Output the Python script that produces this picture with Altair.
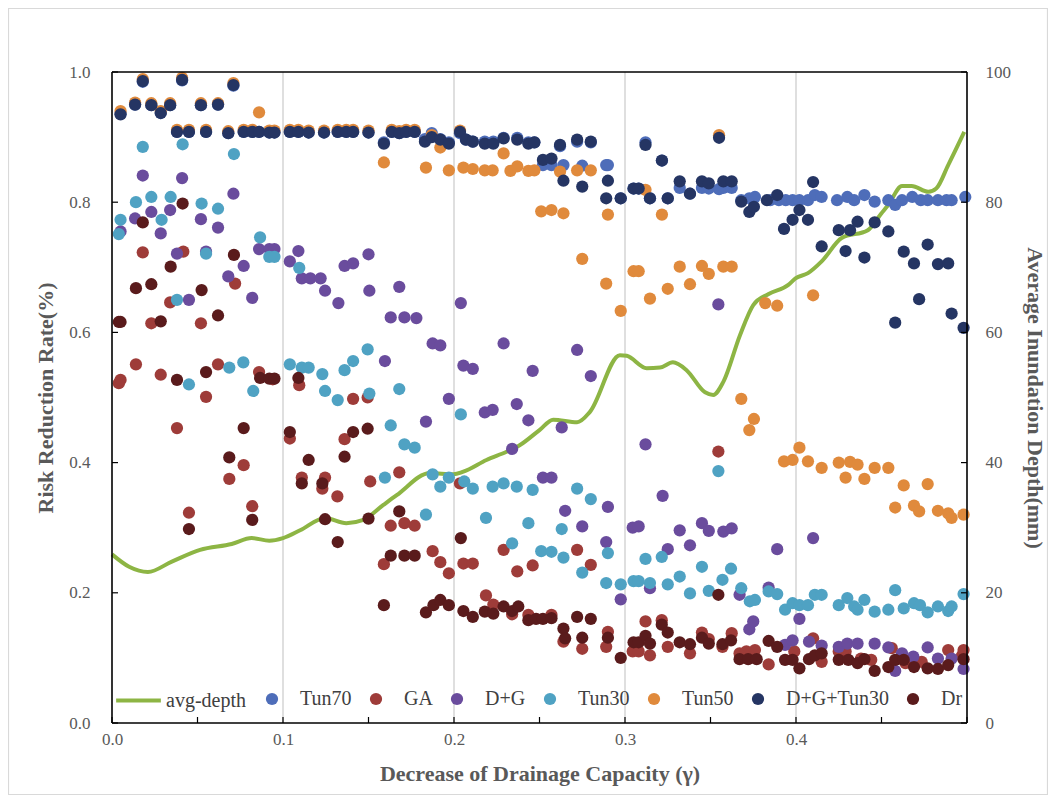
import altair as alt
import pandas as pd

# ---------------- data ----------------
tun70_x = [0.005, 0.0135, 0.018, 0.023, 0.0285, 0.034, 0.038, 0.041, 0.045, 0.052, 0.055, 0.062, 0.068, 0.071,
           0.077, 0.082, 0.086, 0.092, 0.095, 0.104, 0.109, 0.115, 0.124, 0.132, 0.137, 0.141, 0.150, 0.159,
           0.1636, 0.168, 0.172, 0.177, 0.183, 0.187, 0.192, 0.197, 0.2035, 0.207, 0.211, 0.218, 0.223, 0.229,
           0.237, 0.2435, 0.247, 0.252, 0.257, 0.262, 0.264, 0.272, 0.275, 0.280, 0.289, 0.290, 0.2975, 0.305,
           0.308, 0.312, 0.3146, 0.3216, 0.325, 0.332, 0.338, 0.345, 0.349, 0.355, 0.3575, 0.3624, 0.368,
           0.3727, 0.376, 0.385, 0.390, 0.394, 0.398, 0.402, 0.407, 0.411, 0.415, 0.424, 0.430, 0.434, 0.440,
           0.446, 0.454, 0.458, 0.462, 0.468, 0.473, 0.477, 0.483, 0.488, 0.491, 0.499]
tun70_y = [0.936, 0.950, 0.985, 0.949, 0.937, 0.949, 0.908, 0.987, 0.908, 0.949, 0.908, 0.950, 0.906, 0.979,
           0.908, 0.908, 0.908, 0.907, 0.907, 0.908, 0.908, 0.907, 0.907, 0.908, 0.908, 0.908, 0.907, 0.892,
           0.908, 0.906, 0.908, 0.908, 0.897, 0.906, 0.897, 0.892, 0.906, 0.896, 0.893, 0.893, 0.893, 0.899,
           0.899, 0.892, 0.892, 0.857, 0.857, 0.886, 0.857, 0.893, 0.856, 0.892, 0.857, 0.857, 0.806, 0.821,
           0.821, 0.892, 0.806, 0.864, 0.806, 0.822, 0.813, 0.822, 0.821, 0.820, 0.822, 0.822, 0.803,
           0.806, 0.808, 0.803, 0.803, 0.803, 0.803, 0.803, 0.803, 0.811, 0.808, 0.803, 0.808, 0.803, 0.811,
           0.801, 0.803, 0.796, 0.803, 0.808, 0.803, 0.803, 0.803, 0.803, 0.803, 0.808]

ga_x = [0.004, 0.005, 0.014, 0.018, 0.023, 0.0285, 0.034, 0.038, 0.0417, 0.045, 0.052, 0.055, 0.062, 0.0686,
        0.072, 0.077, 0.082, 0.086, 0.094, 0.104, 0.1095, 0.111, 0.123, 0.1246, 0.1318, 0.136, 0.141, 0.1495,
        0.151, 0.159, 0.163, 0.168, 0.171, 0.177, 0.1875, 0.192, 0.197, 0.2035, 0.2055, 0.211, 0.2187, 0.223,
        0.229, 0.234, 0.237, 0.2435, 0.246, 0.257, 0.264, 0.272, 0.275, 0.280, 0.289, 0.290, 0.3045, 0.308,
        0.312, 0.3146, 0.3215, 0.325, 0.338, 0.345, 0.349, 0.3546, 0.357, 0.3624, 0.367, 0.371, 0.376, 0.384,
        0.399, 0.410, 0.415, 0.425, 0.429, 0.438, 0.444, 0.456, 0.464, 0.4735, 0.489, 0.497, 0.498]
ga_y = [0.522, 0.527, 0.551, 0.723, 0.614, 0.535, 0.646, 0.453, 0.724, 0.323, 0.614, 0.501, 0.551, 0.375,
        0.675, 0.396, 0.333, 0.539, 0.528, 0.437, 0.519, 0.377, 0.360, 0.377, 0.348, 0.436, 0.498, 0.500,
        0.371, 0.244, 0.303, 0.385, 0.307, 0.303, 0.264, 0.247, 0.230, 0.368, 0.245, 0.245, 0.196, 0.182,
        0.266, 0.167, 0.233, 0.166, 0.242, 0.166, 0.125, 0.266, 0.114, 0.243, 0.117, 0.140, 0.110, 0.110,
        0.156, 0.104, 0.158, 0.117, 0.107, 0.139, 0.129, 0.417, 0.117, 0.138, 0.107, 0.110, 0.112, 0.090,
        0.110, 0.130, 0.094, 0.110, 0.110, 0.099, 0.097, 0.115, 0.092, 0.094, 0.112, 0.103, 0.112]

dg_x = [0.005, 0.0135, 0.018, 0.023, 0.0285, 0.034, 0.038, 0.041, 0.045, 0.052, 0.055, 0.062, 0.068, 0.071,
        0.077, 0.082, 0.086, 0.092, 0.095, 0.104, 0.109, 0.111, 0.116, 0.122, 0.1246, 0.1324, 0.136, 0.141,
        0.150, 0.1505, 0.1596, 0.163, 0.168, 0.171, 0.178, 0.1836, 0.1875, 0.192, 0.197, 0.204, 0.2055, 0.211,
        0.218, 0.2226, 0.229, 0.234, 0.2367, 0.2435, 0.246, 0.252, 0.257, 0.263, 0.265, 0.272, 0.275, 0.280,
        0.289, 0.290, 0.2975, 0.3045, 0.308, 0.312, 0.3146, 0.322, 0.325, 0.332, 0.338, 0.345, 0.349, 0.3546,
        0.3575, 0.3624, 0.367, 0.3727, 0.375, 0.384, 0.389, 0.3936, 0.398, 0.402, 0.4076, 0.410, 0.415, 0.425,
        0.430, 0.436, 0.446, 0.454, 0.458, 0.462, 0.4686, 0.477, 0.483, 0.491, 0.498]
dg_y = [0.755, 0.775, 0.841, 0.785, 0.752, 0.788, 0.721, 0.837, 0.650, 0.774, 0.724, 0.761, 0.686, 0.813,
        0.702, 0.653, 0.728, 0.728, 0.728, 0.709, 0.725, 0.683, 0.683, 0.683, 0.664, 0.645, 0.702, 0.706,
        0.720, 0.664, 0.556, 0.623, 0.670, 0.623, 0.622, 0.463, 0.583, 0.580, 0.498, 0.645, 0.549, 0.544,
        0.477, 0.481, 0.583, 0.421, 0.490, 0.465, 0.541, 0.377, 0.377, 0.454, 0.326, 0.573, 0.302, 0.533,
        0.278, 0.332, 0.190, 0.300, 0.302, 0.428, 0.207, 0.349, 0.267, 0.296, 0.273, 0.307, 0.295, 0.643,
        0.294, 0.299, 0.197, 0.144, 0.156, 0.208, 0.267, 0.120, 0.127, 0.160, 0.125, 0.284, 0.119, 0.117,
        0.122, 0.122, 0.122, 0.116, 0.080, 0.107, 0.102, 0.116, 0.099, 0.099, 0.083]

tun30_x = [0.004, 0.005, 0.014, 0.018, 0.023, 0.029, 0.0343, 0.038, 0.0413, 0.045, 0.0524, 0.055, 0.062,
           0.0686, 0.0713, 0.0768, 0.0826, 0.0866, 0.092, 0.095, 0.104, 0.1095, 0.111, 0.115, 0.123, 0.1246,
           0.132, 0.136, 0.141, 0.1495, 0.1505, 0.1596, 0.163, 0.168, 0.171, 0.177, 0.1836, 0.1875, 0.192,
           0.197, 0.204, 0.206, 0.211, 0.2187, 0.2226, 0.229, 0.234, 0.2367, 0.2435, 0.246, 0.251, 0.257,
           0.263, 0.264, 0.272, 0.275, 0.280, 0.289, 0.290, 0.2975, 0.305, 0.308, 0.312, 0.3146, 0.3215,
           0.325, 0.332, 0.338, 0.345, 0.349, 0.3546, 0.357, 0.362, 0.368, 0.373, 0.376, 0.384, 0.389,
           0.3936, 0.398, 0.402, 0.407, 0.411, 0.415, 0.425, 0.430, 0.434, 0.436, 0.440, 0.446, 0.454,
           0.458, 0.463, 0.469, 0.4725, 0.477, 0.483, 0.489, 0.491, 0.498]
tun30_y = [0.751, 0.773, 0.800, 0.885, 0.808, 0.773, 0.808, 0.650, 0.889, 0.520, 0.798, 0.721, 0.790,
           0.546, 0.874, 0.554, 0.510, 0.746, 0.716, 0.716, 0.551, 0.699, 0.546, 0.546, 0.536, 0.510,
           0.496, 0.542, 0.556, 0.574, 0.506, 0.377, 0.457, 0.513, 0.428, 0.423, 0.320, 0.382, 0.363,
           0.377, 0.474, 0.371, 0.360, 0.315, 0.363, 0.368, 0.276, 0.363, 0.307, 0.358, 0.264, 0.263,
           0.298, 0.254, 0.360, 0.231, 0.344, 0.215, 0.261, 0.213, 0.218, 0.218, 0.252, 0.215, 0.255,
           0.213, 0.225, 0.199, 0.240, 0.203, 0.387, 0.220, 0.237, 0.207, 0.187, 0.189, 0.202, 0.198,
           0.174, 0.184, 0.181, 0.181, 0.197, 0.197, 0.181, 0.192, 0.179, 0.174, 0.189, 0.171, 0.174,
           0.204, 0.176, 0.184, 0.181, 0.170, 0.179, 0.172, 0.179, 0.198]

tun50_x = [0.005, 0.0135, 0.018, 0.023, 0.0285, 0.034, 0.038, 0.041, 0.045, 0.052, 0.055, 0.062, 0.068, 0.071,
           0.077, 0.082, 0.086, 0.092, 0.095, 0.104, 0.109, 0.115, 0.124, 0.132, 0.137, 0.141, 0.150, 0.159,
           0.1636, 0.168, 0.172, 0.177, 0.1836, 0.187, 0.192, 0.197, 0.2035, 0.2055, 0.211, 0.218, 0.2226,
           0.229, 0.233, 0.237, 0.2435, 0.247, 0.251, 0.257, 0.262, 0.264, 0.272, 0.275, 0.280, 0.289, 0.290,
           0.2975, 0.305, 0.308, 0.312, 0.3146, 0.3216, 0.325, 0.332, 0.338, 0.345, 0.349, 0.355, 0.3575,
           0.3624, 0.368, 0.3727, 0.3754, 0.382, 0.389, 0.393, 0.398, 0.402, 0.407, 0.410, 0.415, 0.425,
           0.429, 0.4316, 0.436, 0.440, 0.446, 0.454, 0.458, 0.463, 0.469, 0.472, 0.477, 0.483, 0.489,
           0.491, 0.498]
tun50_y = [0.940, 0.953, 0.989, 0.952, 0.940, 0.952, 0.911, 0.991, 0.911, 0.952, 0.911, 0.952, 0.909, 0.983,
           0.911, 0.911, 0.938, 0.910, 0.910, 0.911, 0.911, 0.910, 0.910, 0.911, 0.911, 0.911, 0.910, 0.861,
           0.911, 0.909, 0.911, 0.911, 0.853, 0.903, 0.884, 0.849, 0.910, 0.853, 0.851, 0.849, 0.849,
           0.875, 0.848, 0.855, 0.848, 0.849, 0.786, 0.788, 0.847, 0.783, 0.849, 0.713, 0.849, 0.675, 0.781,
           0.633, 0.694, 0.694, 0.819, 0.652, 0.781, 0.667, 0.701, 0.674, 0.702, 0.690, 0.903, 0.701,
           0.701, 0.498, 0.450, 0.467, 0.645, 0.641, 0.402, 0.404, 0.423, 0.402, 0.657, 0.392, 0.400,
           0.377, 0.401, 0.397, 0.375, 0.392, 0.392, 0.331, 0.365, 0.334, 0.325, 0.367, 0.326, 0.322,
           0.315, 0.320]

dgt_x = [0.005, 0.0135, 0.018, 0.023, 0.0285, 0.034, 0.038, 0.041, 0.045, 0.052, 0.055, 0.062, 0.068, 0.071,
         0.077, 0.082, 0.086, 0.092, 0.095, 0.104, 0.109, 0.115, 0.124, 0.132, 0.137, 0.141, 0.150, 0.159,
         0.1636, 0.168, 0.172, 0.177, 0.183, 0.187, 0.192, 0.197, 0.2035, 0.207, 0.211, 0.218, 0.223, 0.229,
         0.237, 0.2435, 0.247, 0.252, 0.257, 0.262, 0.264, 0.272, 0.275, 0.280, 0.289, 0.290, 0.2975, 0.305,
         0.308, 0.312, 0.3146, 0.3216, 0.325, 0.332, 0.338, 0.345, 0.349, 0.355, 0.3575, 0.3624, 0.368,
         0.3727, 0.3754, 0.383, 0.389, 0.393, 0.398, 0.402, 0.407, 0.410, 0.415, 0.425, 0.429, 0.4316, 0.436,
         0.440, 0.446, 0.454, 0.458, 0.463, 0.469, 0.472, 0.477, 0.483, 0.489, 0.491, 0.498]
dgt_y = [0.935, 0.950, 0.986, 0.949, 0.937, 0.949, 0.908, 0.988, 0.908, 0.949, 0.908, 0.950, 0.906, 0.980,
         0.908, 0.908, 0.908, 0.907, 0.907, 0.908, 0.908, 0.907, 0.907, 0.908, 0.908, 0.908, 0.907, 0.890,
         0.908, 0.906, 0.908, 0.908, 0.893, 0.900, 0.896, 0.890, 0.908, 0.896, 0.893, 0.890, 0.890, 0.898,
         0.896, 0.890, 0.892, 0.865, 0.867, 0.888, 0.833, 0.896, 0.824, 0.893, 0.806, 0.833, 0.806, 0.821,
         0.821, 0.888, 0.806, 0.864, 0.806, 0.832, 0.813, 0.832, 0.829, 0.899, 0.832, 0.832, 0.801,
         0.785, 0.793, 0.803, 0.811, 0.759, 0.773, 0.788, 0.773, 0.831, 0.732, 0.757, 0.725, 0.757, 0.770,
         0.715, 0.769, 0.755, 0.615, 0.724, 0.706, 0.651, 0.735, 0.705, 0.706, 0.629, 0.607]

dr_x = [0.004, 0.005, 0.014, 0.018, 0.023, 0.0285, 0.0343, 0.038, 0.0413, 0.045, 0.0524, 0.055, 0.062,
        0.0686, 0.0713, 0.077, 0.082, 0.0866, 0.092, 0.095, 0.104, 0.109, 0.111, 0.115, 0.123, 0.1246,
        0.132, 0.136, 0.141, 0.1495, 0.150, 0.159, 0.163, 0.168, 0.171, 0.177, 0.1836, 0.188, 0.192, 0.197,
        0.204, 0.2055, 0.211, 0.218, 0.223, 0.229, 0.234, 0.2376, 0.2435, 0.248, 0.252, 0.257, 0.264,
        0.265, 0.272, 0.275, 0.280, 0.290, 0.2975, 0.305, 0.308, 0.312, 0.3146, 0.3215, 0.325, 0.332,
        0.338, 0.345, 0.349, 0.3546, 0.357, 0.362, 0.367, 0.372, 0.377, 0.384, 0.389, 0.3936, 0.398,
        0.402, 0.4076, 0.411, 0.415, 0.425, 0.4306, 0.436, 0.440, 0.446, 0.454, 0.458, 0.463, 0.469,
        0.477, 0.483, 0.489, 0.498]
dr_y = [0.616, 0.616, 0.668, 0.769, 0.674, 0.617, 0.701, 0.527, 0.798, 0.298, 0.665, 0.539, 0.626,
        0.408, 0.719, 0.453, 0.312, 0.530, 0.529, 0.529, 0.447, 0.530, 0.368, 0.404, 0.368, 0.313,
        0.278, 0.409, 0.447, 0.452, 0.314, 0.181, 0.257, 0.325, 0.257, 0.257, 0.170, 0.181, 0.189, 0.181,
        0.284, 0.172, 0.163, 0.171, 0.168, 0.179, 0.172, 0.179, 0.158, 0.160, 0.160, 0.161, 0.145,
        0.130, 0.163, 0.131, 0.160, 0.131, 0.100, 0.124, 0.124, 0.134, 0.122, 0.151, 0.139, 0.124,
        0.121, 0.131, 0.122, 0.197, 0.121, 0.127, 0.098, 0.098, 0.098, 0.126, 0.117, 0.097, 0.097,
        0.084, 0.098, 0.104, 0.107, 0.097, 0.097, 0.092, 0.098, 0.080, 0.086, 0.097, 0.097, 0.086,
        0.084, 0.083, 0.089, 0.098]

depth_x = [0.0, 0.01, 0.021, 0.035, 0.0515, 0.07, 0.0817, 0.092, 0.100, 0.110, 0.1246, 0.137, 0.147,
           0.1587, 0.1665, 0.186, 0.1996, 0.2055, 0.219, 0.231, 0.2386, 0.250, 0.258, 0.272, 0.2795,
           0.297, 0.301, 0.3127, 0.3205, 0.328, 0.336, 0.3468, 0.3516, 0.3575, 0.3673, 0.375, 0.384,
           0.3955, 0.3997, 0.407, 0.415, 0.4267, 0.442, 0.450, 0.454, 0.462, 0.4676, 0.4774, 0.482,
           0.489, 0.4984]
depth_y = [25.9, 24.0, 23.2, 24.8, 26.6, 27.5, 28.4, 28.0, 28.4, 29.6, 31.5, 30.7, 31.2,
           33.5, 35.0, 38.4, 38.2, 38.6, 40.4, 41.7, 42.7, 45.0, 46.6, 46.2, 47.8,
           56.5, 56.4, 54.5, 54.6, 55.4, 54.2, 50.8, 50.4, 52.4, 59.6, 64.2, 65.9,
           67.3, 68.3, 69.1, 70.9, 74.5, 75.7, 78.3, 79.6, 82.5, 82.5, 81.6, 82.1,
           85.7, 90.8]

series_names = ["Tun70", "GA", "D+G", "Tun30", "Tun50", "D+G+Tun30", "Dr"]
series_colors = ["#4E6DB9", "#9E3C39", "#6A4C9D", "#4FA2C3", "#E08A3C", "#253563", "#5A1B1C"]
line_name = "avg-depth"
line_color = "#8DB544"

x_label_values = [0.0, 0.1, 0.2, 0.3, 0.4]
x_tick_values = [0.0, 0.05, 0.1, 0.15, 0.2, 0.25, 0.3, 0.35, 0.4, 0.45, 0.5]
x_grid_values = [0.1, 0.2, 0.3, 0.4]
y_left_values = [0.0, 0.2, 0.4, 0.6, 0.8, 1.0]
y_right_values = [0, 20, 40, 60, 80, 100]

# ---------------- build tables ----------------
series_xy = [(tun70_x, tun70_y), (ga_x, ga_y), (dg_x, dg_y), (tun30_x, tun30_y),
             (tun50_x, tun50_y), (dgt_x, dgt_y), (dr_x, dr_y)]
rows = []
for name, (xs, ys) in zip(series_names, series_xy):
    for xv, yv in zip(xs, ys):
        rows.append({"gamma": xv, "rate": yv, "series": name})
points_df = pd.DataFrame(rows)
depth_df = pd.DataFrame({"gamma": depth_x, "depth": depth_y, "series": [line_name] * len(depth_x)})
xtick_df = pd.DataFrame({"t": x_tick_values})
xgrid_df = pd.DataFrame({"g": x_grid_values})
ytick_df = pd.DataFrame({"t": y_left_values})
one_df = pd.DataFrame({"k": [0]})

W, H = 855, 651
FONT = "Liberation Serif"
TXT = "#595959"

x_scale = alt.Scale(domain=[0, 0.5], nice=False, zero=False)
y_scale = alt.Scale(domain=[0, 1], nice=False)
d_scale = alt.Scale(domain=[0, 100], nice=False)

x_axis = alt.Axis(values=x_label_values, format=".1f", ticks=False, tickSize=0, grid=False,
                  domain=False, labelPadding=8, labelFlush=False, labelFont=FONT, labelFontSize=17,
                  labelColor=TXT, title="Decrease of Drainage Capacity (γ)",
                  titleFont=FONT, titleFontSize=22, titleFontWeight="bold",
                  titleColor=TXT, titlePadding=16)

# outer chart-area border (decoration)
outer = alt.Chart(one_df).mark_rect(fill=None, stroke="#D9D9D9", strokeWidth=1.2).encode(
    x=alt.value(-103.5), x2=alt.value(W + 80.5), y=alt.value(-63.5), y2=alt.value(H + 71.5)
)

grid = alt.Chart(xgrid_df).mark_rule(color="#D4D4D4", strokeWidth=1.5).encode(
    x=alt.X("g:Q", scale=x_scale, axis=x_axis)
)

points = alt.Chart(points_df).mark_point(filled=True, size=150, opacity=1).encode(
    x=alt.X("gamma:Q", scale=x_scale, axis=x_axis),
    y=alt.Y("rate:Q", scale=y_scale,
            axis=alt.Axis(values=y_left_values, format=".1f", ticks=False, tickSize=0, grid=False,
                          domain=False, labelPadding=22, labelFont=FONT, labelFontSize=17,
                          labelColor=TXT, title="Risk Reduction Rate(%)",
                          titleFont=FONT, titleFontSize=22, titleFontWeight="bold",
                          titleColor=TXT, titlePadding=11)),
    color=alt.Color("series:N", scale=alt.Scale(domain=series_names, range=series_colors),
                    legend=alt.Legend(orient="none", legendX=150, legendY=617, direction="horizontal",
                                      title=None, symbolType="circle", symbolSize=150,
                                      symbolStrokeWidth=0, labelFont=FONT, labelFontSize=20,
                                      labelColor="#404040", labelOffset=18, columnPadding=14)),
)

line = alt.Chart(depth_df).mark_line(strokeWidth=4, interpolate="monotone").encode(
    x=alt.X("gamma:Q", scale=x_scale, axis=x_axis),
    y=alt.Y("depth:Q", scale=d_scale,
            axis=alt.Axis(orient="right", values=y_right_values, format="d", ticks=False, tickSize=0,
                          grid=False, domain=False, labelPadding=18, labelFont=FONT, labelFontSize=17,
                          labelColor=TXT, title="Average Inundation Depth(mm)",
                          titleFont=FONT, titleFontSize=22, titleFontWeight="bold",
                          titleColor=TXT, titlePadding=12)),
    color=alt.Color("series:N", scale=alt.Scale(domain=[line_name], range=[line_color]),
                    legend=alt.Legend(orient="none", legendX=2, legendY=604, title=None,
                                      symbolType="stroke", symbolSize=2000, symbolStrokeWidth=4,
                                      labelFont=FONT, labelFontSize=20, labelColor="#404040",
                                      labelOffset=3)),
)

xticks = alt.Chart(xtick_df).mark_rule(color="black", strokeWidth=1.2).encode(
    x=alt.X("t:Q", scale=x_scale, axis=x_axis),
    y=alt.value(H - 6), y2=alt.value(H),
)
lticks = alt.Chart(ytick_df).mark_rule(color="black", strokeWidth=1.2).encode(
    y=alt.Y("t:Q", scale=y_scale, axis=None),
    x=alt.value(0), x2=alt.value(6),
)
rticks = alt.Chart(ytick_df).mark_rule(color="black", strokeWidth=1.2).encode(
    y=alt.Y("t:Q", scale=y_scale, axis=None),
    x=alt.value(W - 6), x2=alt.value(W),
)

# plot-area frame: four black rules (decoration)
frame_style = dict(color="black", strokeWidth=1.6)
top_edge = alt.Chart(one_df).mark_rule(**frame_style).encode(
    x=alt.value(0), x2=alt.value(W), y=alt.value(0), y2=alt.value(0))
bottom_edge = alt.Chart(one_df).mark_rule(**frame_style).encode(
    x=alt.value(0), x2=alt.value(W), y=alt.value(H), y2=alt.value(H))
left_edge = alt.Chart(one_df).mark_rule(**frame_style).encode(
    x=alt.value(0), x2=alt.value(0), y=alt.value(0), y2=alt.value(H))
right_edge = alt.Chart(one_df).mark_rule(**frame_style).encode(
    x=alt.value(W), x2=alt.value(W), y=alt.value(0), y2=alt.value(H))

chart = alt.layer(outer, grid, line, points, xticks, lticks, rticks,
                  top_edge, bottom_edge, left_edge, right_edge).resolve_scale(
    y="independent", color="independent"
).properties(
    width=W, height=H,
    background="white",
    autosize=alt.AutoSizeParams(type="none"),
    padding={"left": 104, "top": 64, "right": 81, "bottom": 72},
).configure_view(stroke=None)

chart.save("out.html", embed_options={"renderer": "svg", "actions": False})
